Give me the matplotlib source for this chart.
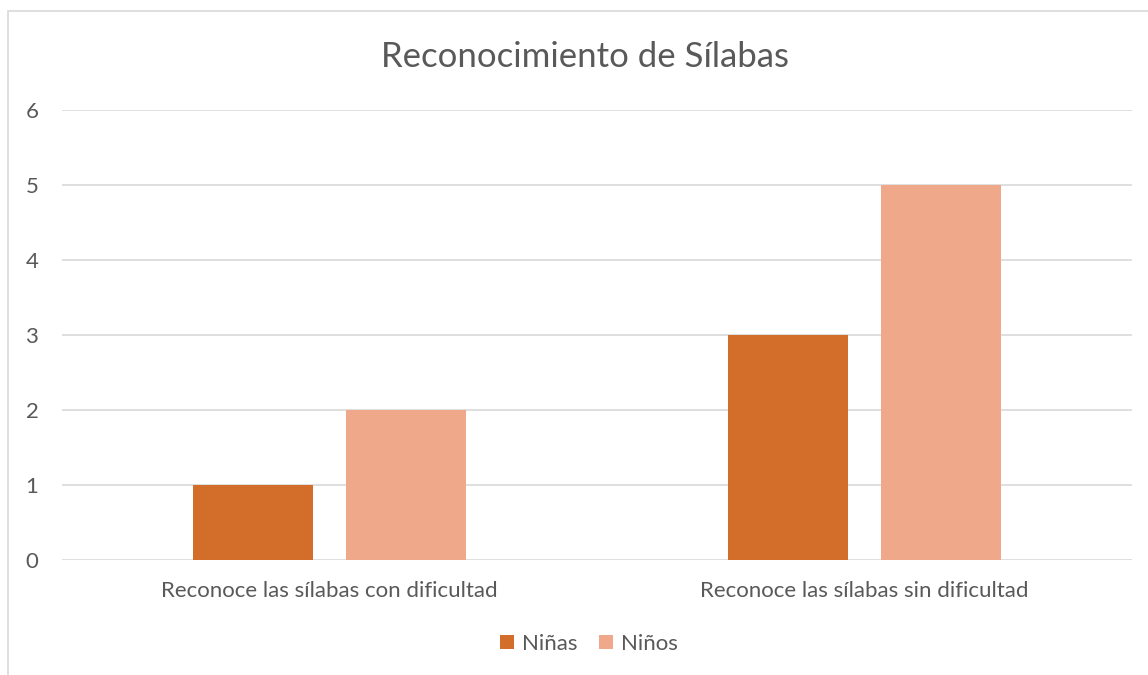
import numpy as np
import matplotlib.pyplot as plt
from matplotlib.patches import Rectangle

categories = ['Reconoce las sílabas con dificultad', 'Reconoce las sílabas sin dificultad']
ninas = [1, 3]
ninos = [2, 5]
series_names = ['Niñas', 'Niños']
colors = ['#D26D2A', '#F0A88A']

plt.rcParams['font.family'] = ['Lato', 'DejaVu Sans']
text_color = '#595959'

fig = plt.figure(figsize=(11.48, 6.75), dpi=100)
ax = fig.add_axes([62/1148, 115/675, 1070/1148, 450/675])

# chart border (cut off on right and bottom like the source)
fig.patches.append(Rectangle((8/1148, -0.1), 1.2, (675-11)/675 + 0.1,
                             transform=fig.transFigure, fill=False,
                             edgecolor='#D9D9D9', linewidth=1.2))

x = np.arange(len(categories))
w = 0.224
off = 0.143
ax.bar(x - off, ninas, w, color=colors[0], label=series_names[0], zorder=3)
ax.bar(x + off, ninos, w, color=colors[1], label=series_names[1], zorder=3)

ax.set_xlim(-0.5, 1.5)
ax.set_ylim(0, 6)
ax.set_yticks(range(0, 7))
ax.set_xticks(x)
ax.set_xticklabels(categories)
ax.grid(axis='y', color='#D9D9D9', linewidth=1.2, zorder=0)
for s in ax.spines.values():
    s.set_visible(False)
ax.tick_params(length=0, labelsize=16, colors=text_color)
ax.tick_params(axis='y', pad=17)
ax.tick_params(axis='x', pad=15)

fig.text(585/1148, (675-57)/675, 'Reconocimiento de Sílabas', ha='center', va='center',
         fontsize=25, color=text_color)

leg = fig.legend(loc='center', bbox_to_anchor=(589/1148, (675-644)/675), ncol=2,
                 frameon=False, fontsize=16, handlelength=0.62, handleheight=0.62,
                 handletextpad=0.35, columnspacing=1.0)
for t in leg.get_texts():
    t.set_color(text_color)

fig.savefig('out.png', dpi=100)
